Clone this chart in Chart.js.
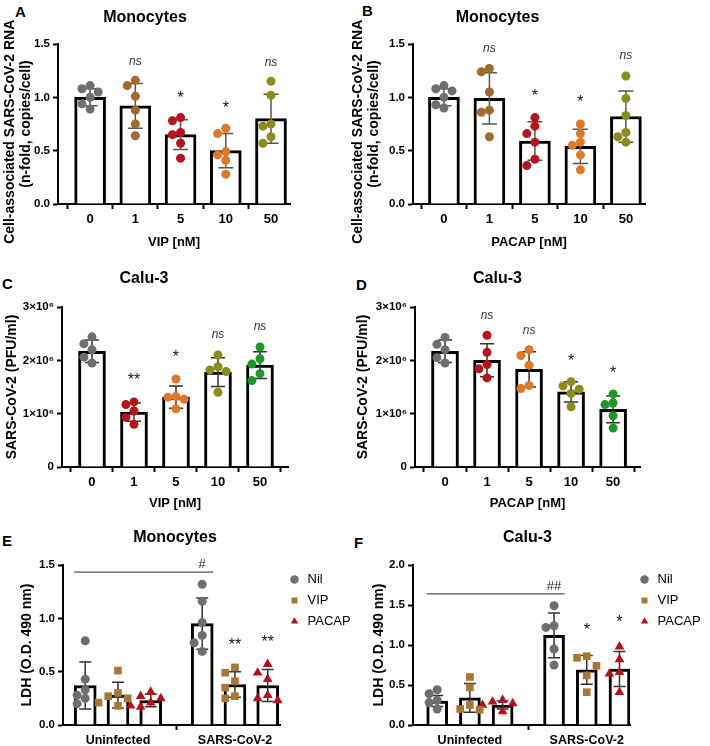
<!DOCTYPE html>
<html><head><meta charset="utf-8">
<script src="https://cdn.jsdelivr.net/npm/chart.js@4.4.1/dist/chart.umd.min.js"></script>
<style>
html,body{margin:0;padding:0;background:#fff;}
body{position:relative;width:710px;height:746px;overflow:hidden;}
canvas{position:absolute;}
.pl{position:absolute;font:bold 15px "Liberation Sans",Arial,sans-serif;line-height:15px;color:#000;}
</style></head><body>
<div class="pl" style="left:15px;top:4px">A</div>
<div class="pl" style="left:362px;top:3px">B</div>
<div class="pl" style="left:2px;top:276px">C</div>
<div class="pl" style="left:356px;top:277px">D</div>
<div class="pl" style="left:2px;top:533px">E</div>
<div class="pl" style="left:354px;top:535px">F</div>
<canvas id="cA" width="355" height="250" style="left:0;top:0"></canvas>
<canvas id="cB" width="360" height="250" style="left:350px;top:0"></canvas>
<canvas id="cC" width="355" height="262" style="left:0;top:250px"></canvas>
<canvas id="cD" width="355" height="262" style="left:355px;top:250px"></canvas>
<canvas id="cE" width="356" height="241" style="left:0;top:505px"></canvas>
<canvas id="cF" width="353" height="241" style="left:355px;top:505px"></canvas>
<script>
// ================= DATA =================
const doseLabels = ['0', '1', '5', '10', '50'];

// A: Monocytes, VIP
const aMean = [1.00, 0.92, 0.65, 0.50, 0.80];
const aSD   = [0.08, 0.21, 0.14, 0.16, 0.23];
const aPts  = [[1.11, 1.08, 1.05, 1.00, 0.94, 0.89], [1.16, 1.11, 1.01, 0.88, 0.75, 0.64], [0.81, 0.78, 0.67, 0.65, 0.57, 0.43], [0.71, 0.66, 0.49, 0.46, 0.41, 0.28], [1.15, 1.02, 0.75, 0.73, 0.63, 0.57]];
const aSig  = ['', 'ns', '*', '*', 'ns'];

// B: Monocytes, PACAP
const bMean = [1.00, 0.99, 0.59, 0.54, 0.82];
const bSD   = [0.08, 0.24, 0.18, 0.16, 0.24];
const bPts  = [[1.11, 1.08, 1.06, 1.00, 0.93, 0.90], [1.27, 1.24, 1.05, 0.88, 0.86, 0.63], [0.81, 0.73, 0.66, 0.58, 0.42, 0.36], [0.75, 0.66, 0.58, 0.55, 0.46, 0.32], [1.20, 0.99, 0.83, 0.67, 0.63, 0.58]];
const bSig  = ['', 'ns', '*', '*', 'ns'];

// C: Calu-3, VIP (PFU/ml)
const cMean = [2.17e6, 1.03e6, 1.31e6, 1.78e6, 1.91e6];
const cSD   = [0.21e6, 0.17e6, 0.21e6, 0.27e6, 0.25e6];
const cPts  = [[2.44e6, 2.31e6, 2.20e6, 2.06e6, 1.95e6], [1.22e6, 1.17e6, 1.05e6, 0.93e6, 0.80e6], [1.65e6, 1.32e6, 1.31e6, 1.27e6, 1.09e6], [2.10e6, 1.88e6, 1.82e6, 1.79e6, 1.40e6], [2.25e6, 2.03e6, 1.93e6, 1.75e6, 1.62e6]];
const cSig  = ['', '**', '*', 'ns', 'ns'];

// D: Calu-3, PACAP (PFU/ml)
const dMean = [2.17e6, 2.00e6, 1.83e6, 1.41e6, 1.08e6];
const dSD   = [0.21e6, 0.31e6, 0.33e6, 0.19e6, 0.25e6];
const dPts  = [[2.43e6, 2.30e6, 2.20e6, 2.05e6, 1.95e6], [2.47e6, 2.15e6, 1.92e6, 1.84e6, 1.67e6], [2.20e6, 2.09e6, 1.91e6, 1.53e6, 1.47e6], [1.60e6, 1.52e6, 1.46e6, 1.38e6, 1.13e6], [1.37e6, 1.20e6, 1.17e6, 0.96e6, 0.73e6]];
const dSig  = ['', 'ns', 'ns', '*', '*'];

// E/F: LDH
const infGroups = ['Uninfected', 'SARS-CoV-2'];
const treatNames = ['Nil', 'VIP', 'PACAP'];

const eNilMean = [0.37, 0.95];  const eNilSD = [0.22, 0.24];
const eNilPts  = [[0.79, 0.43, 0.33, 0.28, 0.25, 0.20], [1.32, 1.16, 0.96, 0.84, 0.77, 0.69]];
const eVipMean = [0.28, 0.38];  const eVipSD = [0.12, 0.12];
const eVipPts  = [[0.51, 0.30, 0.27, 0.25, 0.21, 0.18], [0.54, 0.49, 0.41, 0.35, 0.27, 0.25]];
const ePacMean = [0.23, 0.37];  const ePacSD = [0.06, 0.15];
const ePacPts  = [[0.31, 0.27, 0.25, 0.21, 0.18, 0.17], [0.57, 0.49, 0.43, 0.28, 0.25, 0.23]];
const eSigNil = ['', ''];  const eSigVip = ['', '**'];  const eSigPac = ['', '**'];
const eHash = '#';

const fNilMean = [0.30, 1.12];  const fNilSD = [0.07, 0.28];
const fNilPts  = [[0.44, 0.39, 0.31, 0.28, 0.20], [1.49, 1.24, 1.22, 0.95, 0.75]];
const fVipMean = [0.34, 0.69];  const fVipSD = [0.18, 0.18];
const fVipPts  = [[0.60, 0.47, 0.25, 0.20, 0.19], [0.86, 0.84, 0.74, 0.62, 0.41]];
const fPacMean = [0.25, 0.70];  const fPacSD = [0.05, 0.22];
const fPacPts  = [[0.31, 0.29, 0.27, 0.25, 0.17], [0.98, 0.82, 0.66, 0.64, 0.41]];
const fSigNil = ['', ''];  const fSigVip = ['', '*'];  const fSigPac = ['', '*'];
const fHash = '##';

// ================= STYLE =================
const FONT = '"Liberation Sans", Arial, Helvetica, sans-serif';
const GREY = '#6e6e6e', BROWN = '#a0692d', RED = '#b5141c', ORANGE = '#dc7826', OLIVE = '#8c8c1e', GREEN = '#1e9628';
const colAB = [GREY, BROWN, RED, ORANGE, OLIVE];
const colCD = [GREY, RED, ORANGE, OLIVE, GREEN];
const treatColors = [GREY, '#a87632', '#b3101a'];
const treatStyles = ['circle', 'rect', 'triangle'];
const treatRadius = [4.5, 5.4, 5.6];
const treatShift = [-0.28, 0, 0.28];

// ================= PLUGINS =================
const errPlugin = {
  id: 'errbars',
  afterDatasetDraw(chart, args, o) {
    const ds = chart.data.datasets[args.index];
    if (!ds.sdv) return;
    const ctx = chart.ctx, xs = chart.scales.x, ys = chart.scales.y;
    ctx.save();
    ctx.strokeStyle = o.color; ctx.lineWidth = o.width; ctx.lineCap = 'butt';
    ds.data.forEach((p, i) => {
      const x = xs.getPixelForValue(p.x);
      const yt = ys.getPixelForValue(p.y + ds.sdv[i]);
      const yb = ys.getPixelForValue(Math.max(p.y - ds.sdv[i], ys.min));
      ctx.beginPath();
      ctx.moveTo(x, yt); ctx.lineTo(x, yb);
      ctx.moveTo(x - o.cap / 2, yt); ctx.lineTo(x + o.cap / 2, yt);
      ctx.moveTo(x - o.cap / 2, yb); ctx.lineTo(x + o.cap / 2, yb);
      ctx.stroke();
    });
    ctx.restore();
  }
};

const sigPlugin = {
  id: 'sig',
  afterDatasetsDraw(chart, args, o) {
    const ctx = chart.ctx, xs = chart.scales.x, ys = chart.scales.y;
    const topOf = (ds, i) => Math.max(ds.data[i].y + ds.sdv[i], ...ds.ptv[i]);
    ctx.save();
    ctx.textAlign = 'center'; ctx.textBaseline = 'alphabetic';
    chart.data.datasets.forEach(ds => {
      if (!ds.sigv) return;
      ds.data.forEach((p, i) => {
        const lab = ds.sigv[i];
        if (!lab) return;
        const x = xs.getPixelForValue(p.x);
        const y = ys.getPixelForValue(topOf(ds, i)) - o.gap;
        if (lab === 'ns') { ctx.font = 'italic 12px ' + FONT; ctx.fillStyle = '#333'; }
        else { ctx.font = '16px ' + FONT; ctx.fillStyle = '#111'; }
        ctx.fillText(lab, x, y);
      });
    });
    if (o.hash) {
      const ref = chart.data.datasets.find(d => d.sigv);  // first series (Nil)
      const bw = ref.barThickness / 2;
      const x0 = xs.getPixelForValue(ref.data[0].x) - bw;
      const x1 = xs.getPixelForValue(ref.data[1].x) + bw;
      const y = ys.getPixelForValue(topOf(ref, 1)) - 12;
      ctx.strokeStyle = '#555'; ctx.lineWidth = 1.2;
      ctx.beginPath(); ctx.moveTo(x0, y); ctx.lineTo(x1, y); ctx.stroke();
      ctx.font = '13px ' + FONT; ctx.fillStyle = '#222';
      ctx.fillText(o.hash, xs.getPixelForValue(ref.data[1].x), y - 4);
    }
    ctx.restore();
  }
};

function swarm(chart) {
  const xs = chart.scales.x, ys = chart.scales.y;
  const unit = xs.getPixelForValue(1) - xs.getPixelForValue(0);
  chart.data.datasets.forEach(ds => {
    if (!ds.vals) return;
    const d = ds.pointRadius * 2 * 0.9;
    const idx = ds.vals.map((_, k) => k).sort((a, b) => ds.vals[b] - ds.vals[a]);
    const placed = [];
    idx.forEach(k => {
      const py = ys.getPixelForValue(ds.vals[k]);
      let off = 0;
      for (let step = 0; step < 11; step++) {
        const cand = step === 0 ? 0 : (step % 2 ? -1 : 1) * Math.ceil(step / 2) * d;
        if (placed.every(p => Math.hypot(p.x - cand, p.y - py) >= d)) { off = cand; break; }
      }
      placed.push({x: off, y: py});
      ds.data[k].x = ds.base + off / unit;
    });
  });
  chart.update('none');
}

// ================= BUILDER =================
function buildPanel(o) {
  const datasets = [];
  o.series.forEach(s => {
    datasets.push({
      type: 'bar', order: 2, inLegend: false,
      data: s.mean.map((m, i) => ({x: i + s.shift, y: m})),
      sdv: s.sd, ptv: s.pts, sigv: s.sig,
      backgroundColor: '#ffffff', borderColor: '#000000', borderWidth: 3, borderSkipped: 'start',
      barThickness: o.barW, grouped: false
    });
  });
  o.series.forEach(s => {
    s.pts.forEach((vals, i) => {
      const col = s.colors ? s.colors[i] : s.color;
      datasets.push({
        type: 'scatter', order: 1, label: s.name, inLegend: i === 0,
        vals: vals, base: i + s.shift,
        data: vals.map(v => ({x: i + s.shift, y: v})),
        pointStyle: s.style, pointRadius: s.radius,
        backgroundColor: col, borderColor: col, pointBackgroundColor: col, pointBorderColor: col,
        pointBorderWidth: 0, borderWidth: 0, clip: false
      });
    });
  });

  const chart = new Chart(document.getElementById(o.id), {
    type: 'bar',
    data: {datasets},
    options: {
      responsive: false, animation: false, devicePixelRatio: 1, events: [],
      layout: {padding: {left: 0, right: o.padR, top: 0, bottom: 0}},
      scales: {
        x: {
          type: 'linear', min: o.xMin, max: o.xMax, offset: false,
          afterBuildTicks: sc => { sc.ticks = o.groups.map((g, i) => ({value: i})); },
          afterFit: sc => { sc.height = o.xH; },
          ticks: {callback: v => o.groups[v], autoSkip: false, maxRotation: 0, padding: 3, color: '#000',
                  font: {family: FONT, size: o.xFont, weight: 'bold'}},
          grid: {display: true, drawOnChartArea: false, drawTicks: true, tickLength: 5, tickWidth: 2, tickColor: '#000', color: '#000'},
          border: {display: true, color: '#000', width: 2},
          title: o.xTitle ? {display: true, text: o.xTitle, color: '#000',
                  font: {family: FONT, size: 13, weight: 'bold', lineHeight: 1.2}, padding: {top: 0, bottom: o.xTitlePad}}
                : {display: false}
        },
        y: {
          min: o.yMin, max: o.yMax,
          afterFit: sc => { sc.width = o.yW; },
          ticks: {stepSize: o.yStep, callback: o.yFmt, padding: 3, color: '#000',
                  font: {family: FONT, size: 11.5, weight: 'bold'}},
          grid: {display: true, drawOnChartArea: false, drawTicks: true, tickLength: 5, tickWidth: 2, tickColor: '#000', color: '#000'},
          border: {display: true, color: '#000', width: 2},
          title: {display: true, text: o.yTitle, color: '#000',
                  font: {family: FONT, size: 14, weight: 'bold', lineHeight: 1.15}, padding: {top: o.yTitlePad, bottom: 0}}
        }
      },
      plugins: {
        tooltip: {enabled: false},
        title: {display: true, text: o.title, color: '#000', font: {family: FONT, size: 16, weight: 'bold', lineHeight: 1.2},
                padding: o.titlePad},
        legend: o.legend ? {
          display: true, position: 'right', align: 'start', fullSize: false, maxWidth: 70,
          labels: {usePointStyle: true, boxWidth: 13, boxHeight: 6, padding: 8, color: '#000',
                   font: {family: FONT, size: 13},
                   filter: (item, data) => data.datasets[item.datasetIndex].inLegend}
        } : {display: false},
        errbars: {color: o.errColor, width: 1.5, cap: o.cap},
        sig: {gap: o.sigGap, hash: o.hash || null}
      }
    },
    plugins: [errPlugin, sigPlugin]
  });
  swarm(chart);
  return chart;
}

const fmt1 = v => v.toFixed(1);
const fmtPFU = v => v === 0 ? '0' : (v / 1e6) + '\u00d710\u2076';
const NB = '\u00a0\u00a0\u00a0\u00a0';
const yTitleRNA = ['Cell-associated SARS-CoV-2 RNA' + NB, '(n-fold, copies/cell)'];

buildPanel({id: 'cA', title: 'Monocytes', titlePad: {top: 8.4, bottom: 16.4}, groups: doseLabels,
  xMin: -0.71, xMax: 4.42, yMin: 0, yMax: 1.5, yStep: 0.5, yFmt: fmt1, yW: 58, xH: 46, padR: 65,
  xTitle: 'VIP [nM]', xTitlePad: 0, yTitle: yTitleRNA, yTitlePad: 2, xFont: 13, barW: 31,
  errColor: '#555', cap: 15, sigGap: 15,
  series: [{name: 'VIP', mean: aMean, sd: aSD, pts: aPts, sig: aSig, colors: colAB, style: 'circle', radius: 4.5, shift: 0}]});

buildPanel({id: 'cB', title: 'Monocytes', titlePad: {top: 8.4, bottom: 16.4}, groups: doseLabels,
  xMin: -0.68, xMax: 4.42, yMin: 0, yMax: 1.5, yStep: 0.5, yFmt: fmt1, yW: 63, xH: 46, padR: 65,
  xTitle: 'PACAP [nM]', xTitlePad: 0, yTitle: yTitleRNA, yTitlePad: 0, xFont: 13, barW: 31,
  errColor: '#555', cap: 15, sigGap: 17,
  series: [{name: 'PACAP', mean: bMean, sd: bSD, pts: bPts, sig: bSig, colors: colAB, style: 'circle', radius: 4.5, shift: 0}]});

buildPanel({id: 'cC', title: 'Calu-3', titlePad: {top: 19.4, bottom: 18.4}, groups: doseLabels,
  xMin: -0.714, xMax: 4.667, yMin: 0, yMax: 3e6, yStep: 1e6, yFmt: fmtPFU, yW: 62, xH: 45, padR: 67,
  xTitle: 'VIP [nM]', xTitlePad: 1.2, yTitle: 'SARS-CoV-2 (PFU/ml)', yTitlePad: 4, xFont: 13, barW: 27,
  errColor: '#333', cap: 14, sigGap: 17,
  series: [{name: 'VIP', mean: cMean, sd: cSD, pts: cPts, sig: cSig, colors: colCD, style: 'circle', radius: 4.5, shift: 0}]});

buildPanel({id: 'cD', title: 'Calu-3', titlePad: {top: 19.4, bottom: 18.4}, groups: doseLabels,
  xMin: -0.714, xMax: 4.64, yMin: 0, yMax: 3e6, yStep: 1e6, yFmt: fmtPFU, yW: 60, xH: 45, padR: 70,
  xTitle: 'PACAP [nM]', xTitlePad: 1.2, yTitle: 'SARS-CoV-2 (PFU/ml)', yTitlePad: 0, xFont: 13, barW: 27,
  errColor: '#333', cap: 14, sigGap: 16,
  series: [{name: 'PACAP', mean: dMean, sd: dSD, pts: dPts, sig: dSig, colors: colCD, style: 'circle', radius: 4.5, shift: 0}]});

function ldhSeries(means, sds, pts, sigs) {
  return treatNames.map((n, k) => ({name: n, mean: means[k], sd: sds[k], pts: pts[k], sig: sigs[k],
    color: treatColors[k], style: treatStyles[k], radius: treatRadius[k], shift: treatShift[k]}));
}

buildPanel({id: 'cE', title: 'Monocytes', titlePad: {top: 23.4, bottom: 17.4}, groups: infGroups,
  xMin: -0.47, xMax: 1.385, yMin: 0, yMax: 1.5, yStep: 0.5, yFmt: fmt1, yW: 63, xH: 21, padR: 6,
  xTitle: null, yTitle: 'LDH (O.D. 490 nm)', yTitlePad: 19, xFont: 12.5, barW: 22,
  errColor: '#333', cap: 12, sigGap: 17, legend: true, hash: eHash,
  series: ldhSeries([eNilMean, eVipMean, ePacMean], [eNilSD, eVipSD, ePacSD], [eNilPts, eVipPts, ePacPts], [eSigNil, eSigVip, eSigPac])});

buildPanel({id: 'cF', title: 'Calu-3', titlePad: {top: 23.4, bottom: 17.4}, groups: infGroups,
  xMin: -0.487, xMax: 1.37, yMin: 0, yMax: 2.0, yStep: 0.5, yFmt: fmt1, yW: 58, xH: 21, padR: 8,
  xTitle: null, yTitle: 'LDH (O.D. 490 nm)', yTitlePad: 16, xFont: 12.5, barW: 21,
  errColor: '#333', cap: 12, sigGap: 20, legend: true, hash: fHash,
  series: ldhSeries([fNilMean, fVipMean, fPacMean], [fNilSD, fVipSD, fPacSD], [fNilPts, fVipPts, fPacPts], [fSigNil, fSigVip, fSigPac])});
</script>
</body></html>
